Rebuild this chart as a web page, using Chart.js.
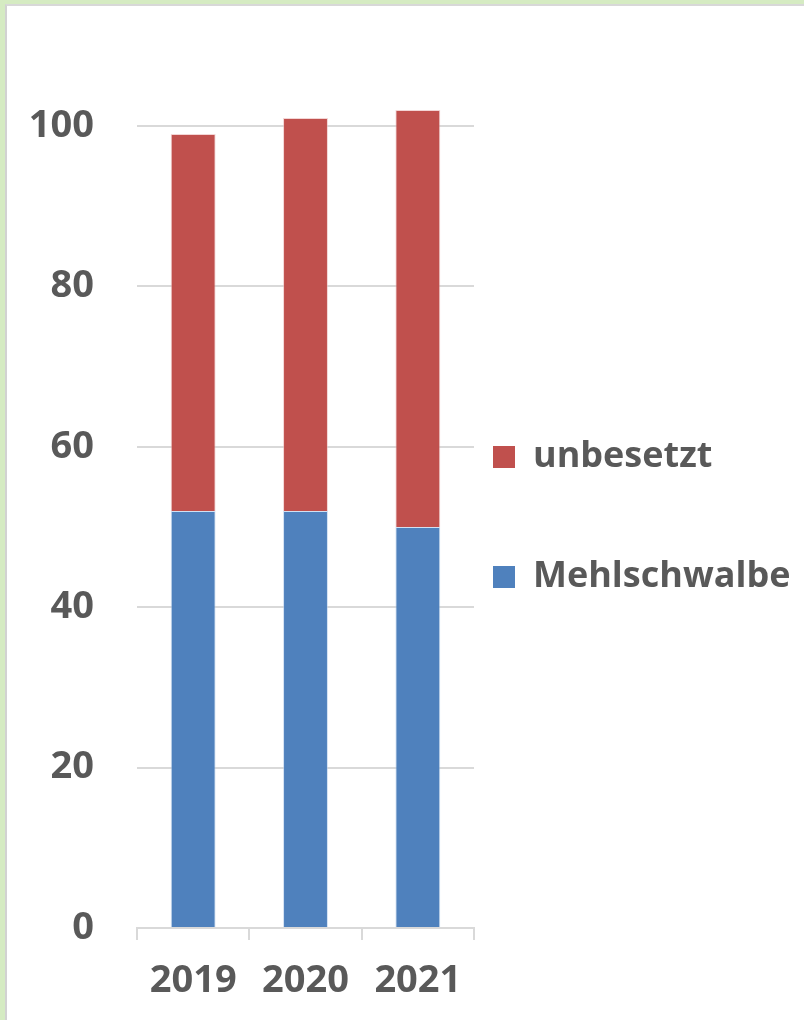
<!DOCTYPE html>
<html>
<head>
<meta charset="utf-8">
<script src="https://cdn.jsdelivr.net/npm/chart.js@4.4.1/dist/chart.umd.min.js"></script>
<style>
  html, body { margin: 0; padding: 0; }
  body { width: 804px; height: 1020px; background: #d5ebc2; position: relative; overflow: hidden; }
  #panel { position: absolute; left: 5px; top: 4px; width: 820px; height: 1040px; background: #fff;
           border-left: 2px solid #d2d2d2; border-top: 2px solid #d8d8d8; box-sizing: border-box; }
  #wrap { position: absolute; left: 0; top: 0; width: 804px; height: 1020px; }
</style>
</head>
<body>
<div id="panel"></div>
<div id="wrap"><canvas id="c" width="804" height="1020"></canvas></div>
<script>
const categories = ['2019', '2020', '2021'];
const mehlschwalbe = [52, 52, 50];
const unbesetzt = [47, 49, 52];
const yTicks = [0, 20, 40, 60, 80, 100];

const TEXT = '#595959';
const GRID = '#d9d9d9';
const FONT = '"Open Sans", "DejaVu Sans", sans-serif';
const PX_PER_UNIT = 8.02;

const chart = new Chart(document.getElementById('c'), {
  type: 'bar',
  data: {
    labels: categories,
    datasets: [
      { label: 'Mehlschwalbe', data: mehlschwalbe, backgroundColor: '#4f81bd',
        borderColor: 'rgba(180,205,235,0.6)', borderWidth: 1 },
      { label: 'unbesetzt', data: unbesetzt, backgroundColor: '#c0504d',
        borderColor: 'rgba(235,185,185,0.6)', borderWidth: 1 }
    ]
  },
  options: {
    responsive: false,
    animation: false,
    devicePixelRatio: 1,
    layout: { padding: { left: 0, top: 14, right: 0, bottom: 0 } },
    datasets: { bar: { categoryPercentage: 0.8, barPercentage: 0.5 } },
    plugins: {
      tooltip: { enabled: false },
      legend: {
        position: 'right',
        align: 'center',
        reverse: true,
        maxWidth: 330,
        labels: {
          boxWidth: 22,
          boxHeight: 22,
          padding: 19,
          color: TEXT,
          font: { family: FONT, size: 36, weight: 'bold', lineHeight: '46px' },
          generateLabels(ch) {
            const items = Chart.defaults.plugins.legend.labels.generateLabels(ch);
            items.forEach(it => { it.lineWidth = 0; it.strokeStyle = 'rgba(0,0,0,0)'; });
            const spacer = { text: [''], fillStyle: 'rgba(0,0,0,0)', strokeStyle: 'rgba(0,0,0,0)',
                             lineWidth: 0, hidden: false, datasetIndex: -1 };
            return [items[0], spacer, items[1]];
          }
        }
      }
    },
    scales: {
      x: {
        stacked: true,
        offset: true,
        grid: { display: true, drawOnChartArea: false, drawTicks: true, tickLength: 12,
                color: GRID, lineWidth: 2, offset: true },
        border: { display: true, color: GRID, width: 2 },
        ticks: { color: TEXT, padding: 18, font: { family: FONT, size: 38, weight: 'bold' } },
        afterFit(scale) { scale.height = 92; }
      },
      y: {
        stacked: true,
        min: 0,
        max: 114,
        grid: { display: true, drawTicks: false, color: GRID, lineWidth: 2 },
        border: { display: false },
        ticks: { stepSize: 20, color: TEXT, padding: 43,
                 font: { family: FONT, size: 38, weight: 'bold' } },
        afterBuildTicks(scale) {
          scale.ticks = yTicks.map(v => ({ value: v }));
        },
        afterFit(scale) { scale.width = 137; }
      }
    }
  }
});

// align plot geometry with the reference (chart area right edge and vertical scale)
const dx = chart.chartArea.right - 474;
if (dx > 0) {
  chart.options.layout.padding.right += dx;
  chart.update('none');
}
chart.options.scales.y.max = (chart.chartArea.bottom - chart.chartArea.top) / PX_PER_UNIT;
chart.update('none');
</script>
</body>
</html>
